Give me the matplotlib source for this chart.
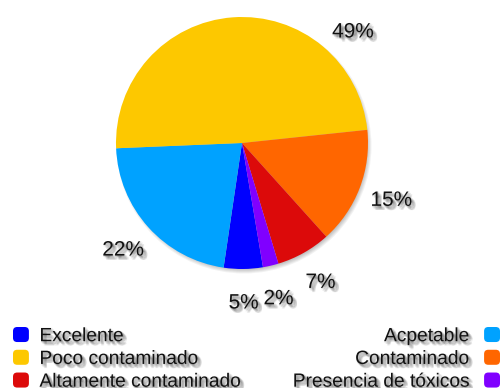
import numpy as np
import matplotlib
matplotlib.use('Agg')
import matplotlib.pyplot as plt
import matplotlib.patheffects as pe
from matplotlib.patches import Patch, Circle, FancyBboxPatch
from matplotlib.legend_handler import HandlerPatch

# ---------------------- Data

categorias = ['Excelente', 'Acpetable', 'Poco contaminado',
              'Contaminado', 'Altamente contaminado', 'Presencia de tóxicos']
porcentajes = [5, 22, 49, 15, 7, 2]
colores = ['#0000ff', '#00a2ff', '#fdc800', '#ff6600', '#dc0a0a', '#8000ff']

plt.rcParams['font.family'] = ['Liberation Sans', 'DejaVu Sans']

# soft drop shadow built from a few offset copies
def sombra(n=1.0):
    offs = [(1, -1), (2, -2), (3, -3), (2, -1), (1, -2), (3, -2), (2, -3), (0, -1), (1, 0)]
    fx = [pe.SimplePatchShadow(offset=o, shadow_rgbFace='black', alpha=0.09 * n) for o in offs]
    return fx + [pe.Normal()]

fig = plt.figure(figsize=(5.04, 3.88), dpi=100)
ax = fig.add_axes([0, 0, 1, 1])

cx, cy, r = 242, 245, 126

# blurred shadow under the pie
for k in range(5):
    ax.add_patch(Circle((cx + 2, cy - 3), r + 1.5 - k, color='black', alpha=0.05, lw=0, zorder=0))

wedges, texts, autotexts = ax.pie(porcentajes, colors=colores, startangle=-80.4,
                                  counterclock=False, center=(cx, cy), radius=r,
                                  autopct=lambda p: '%.0f%%' % p, pctdistance=1.27,
                                  wedgeprops=dict(linewidth=0))

for t in autotexts:
    t.set_fontsize(15)
    t.set_color('#111111')
    t.set_path_effects(sombra())

# the big slice label sits up to the right of the pie
ang = np.deg2rad(45)
autotexts[2].set_position((cx + 157 * np.cos(ang), cy + 157 * np.sin(ang)))

ax.set_xlim(0, 504)
ax.set_ylim(0, 388)
ax.set_aspect('equal')
ax.axis('off')

# ---------------------- Legend

def cuadro(legend, orig_handle, xdescent, ydescent, width, height, fontsize):
    p = FancyBboxPatch((-xdescent, -ydescent), width, height,
                       boxstyle='round,pad=0,rounding_size=3',
                       fc=orig_handle.get_facecolor(), lw=0)
    p.set_path_effects(sombra(0.8))
    return p

handles = [Patch(facecolor=c) for c in colores]
izq = [0, 2, 4]
der = [1, 3, 5]

opts = dict(frameon=False, fontsize=13.8, borderpad=0, borderaxespad=0,
            handlelength=0.83, handleheight=0.83,
            labelspacing=0.24, handler_map={Patch: HandlerPatch(patch_func=cuadro)})

leg1 = fig.legend([handles[i] for i in izq], [categorias[i] for i in izq],
                  loc='upper left', bbox_to_anchor=(13 / 504, 1 - 327 / 388),
                  handletextpad=0.55, **opts)
leg2 = fig.legend([handles[i] for i in der], [categorias[i] for i in der],
                  loc='upper right', bbox_to_anchor=(500 / 504, 1 - 327 / 388),
                  markerfirst=False, handletextpad=0.8, **opts)
for lg in (leg1, leg2):
    for t in lg.get_texts():
        t.set_color('#111111')
        t.set_path_effects(sombra())

plt.savefig('out.png', dpi=100)
